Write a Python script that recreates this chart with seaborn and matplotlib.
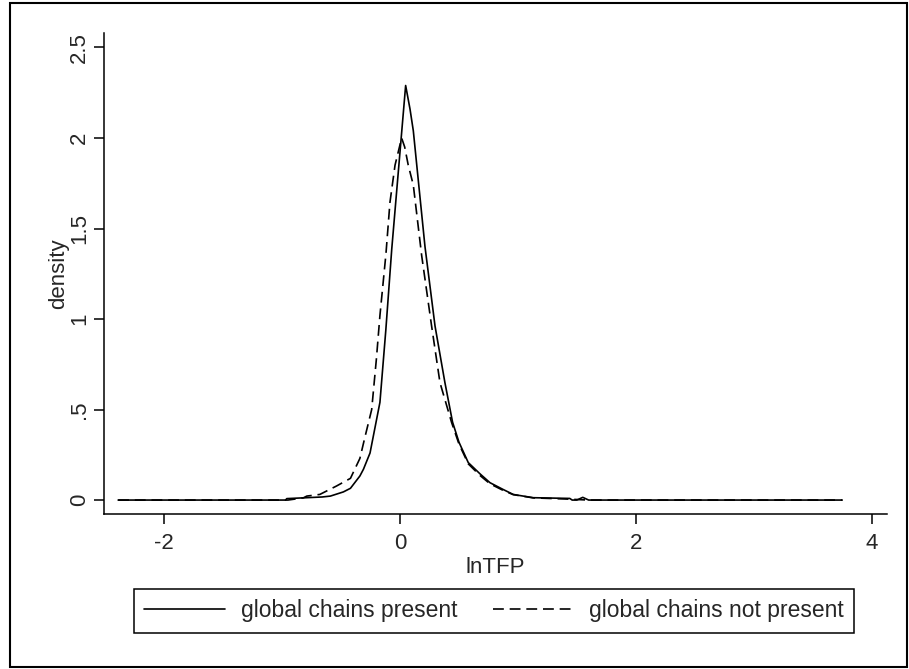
import seaborn as sns
import matplotlib.pyplot as plt
from matplotlib.patches import Rectangle
import pandas as pd

# ----------- DATA -----------
present_x = [-2.39, -0.97, -0.96, -0.66, -0.59, -0.48, -0.42, -0.34, -0.31, -0.254,
             -0.212, -0.17, -0.12, -0.07, 0.048, 0.085, 0.113, 0.15, 0.212, 0.297,
             0.381, 0.446, 0.50, 0.579, 0.68, 0.763, 0.87, 0.96, 1.13, 1.44,
             1.46, 1.50, 1.55, 1.60, 3.75]
present_y = [0, 0, 0.008, 0.017, 0.022, 0.045, 0.065, 0.133, 0.17, 0.26,
             0.40, 0.54, 0.94, 1.385, 2.29, 2.16, 2.04, 1.80, 1.40, 0.962,
             0.649, 0.43, 0.32, 0.207, 0.144, 0.096, 0.06, 0.031, 0.013, 0.009,
             0.0, 0.0, 0.015, 0.0, 0]

notpresent_x = [-2.39, -0.95, -0.82, -0.79, -0.68, -0.54, -0.42, -0.34, -0.30, -0.24,
                -0.20, -0.17, -0.119, -0.085, -0.042, 0.014, 0.04, 0.07, 0.113, 0.184,
                0.268, 0.339, 0.438, 0.50, 0.579, 0.68, 0.763, 0.87, 0.96, 1.13,
                1.40, 1.60, 3.75]
notpresent_y = [0, 0, 0.012, 0.022, 0.031, 0.077, 0.12, 0.23, 0.34, 0.50,
                0.78, 1.02, 1.36, 1.645, 1.85, 2.00, 1.95, 1.85, 1.74, 1.35,
                0.962, 0.649, 0.428, 0.31, 0.20, 0.135, 0.09, 0.055, 0.03, 0.012,
                0.006, 0.0, 0]

x_ticks = [-2, 0, 2, 4]
y_ticks = [0, 0.5, 1, 1.5, 2, 2.5]
y_ticklabels = ["0", ".5", "1", "1.5", "2", "2.5"]

present = pd.DataFrame({"lnTFP": present_x, "density": present_y})
notpresent = pd.DataFrame({"lnTFP": notpresent_x, "density": notpresent_y})

# ----------- STYLE -----------
sns.set_style("ticks")
plt.rcParams["font.family"] = ["Liberation Sans", "DejaVu Sans"]
plt.rcParams["font.size"] = 16

fig = plt.figure(figsize=(9.09, 6.69), dpi=100)
ax = fig.add_axes([104 / 909, 1 - 514 / 669, (887 - 104) / 909, (514 - 33) / 669])

sns.lineplot(data=present, x="lnTFP", y="density", ax=ax, color="black",
             linewidth=1.2, label="global chains present")
sns.lineplot(data=notpresent, x="lnTFP", y="density", ax=ax, color="black",
             linewidth=1.2, linestyle=(0, (6.5, 3.5)), label="global chains not present")

ax.set_xlim(-2.51, 4.13)
ax.set_ylim(-0.077, 2.58)
ax.set_xticks(x_ticks)
ax.set_xticklabels([str(t) for t in x_ticks])
ax.set_yticks(y_ticks)
ax.set_yticklabels(y_ticklabels, rotation=90, va="center")
ax.tick_params(axis="both", length=7, width=1.1, color="black", labelsize=16)
ax.tick_params(axis="x", pad=7)
ax.tick_params(axis="y", pad=3)
for s in ["left", "bottom"]:
    ax.spines[s].set_linewidth(1.1)
    ax.spines[s].set_color("black")
sns.despine(ax=ax)

ax.set_xlabel("lnTFP", fontsize=16, labelpad=2)
ax.set_ylabel("density", fontsize=16, labelpad=0)

# legend below the plot, Stata style
ax.get_legend().remove()
handles, labels = ax.get_legend_handles_labels()
leg = fig.legend(handles, labels, loc="upper left", ncol=2,
                 bbox_to_anchor=(134 / 909, 1 - 589 / 669), borderaxespad=0,
                 fontsize=16.5, handlelength=3.5, handletextpad=0.7,
                 columnspacing=1.55, borderpad=0.45, fancybox=False,
                 edgecolor="black", framealpha=1)
leg.get_frame().set_linewidth(1.1)

# outer border of the graph
fig.patches.append(Rectangle((10 / 909, 2 / 669), 897 / 909, 664 / 669,
                             transform=fig.transFigure, fill=False,
                             edgecolor="black", linewidth=1.5))

fig.savefig("out.png", dpi=100)
